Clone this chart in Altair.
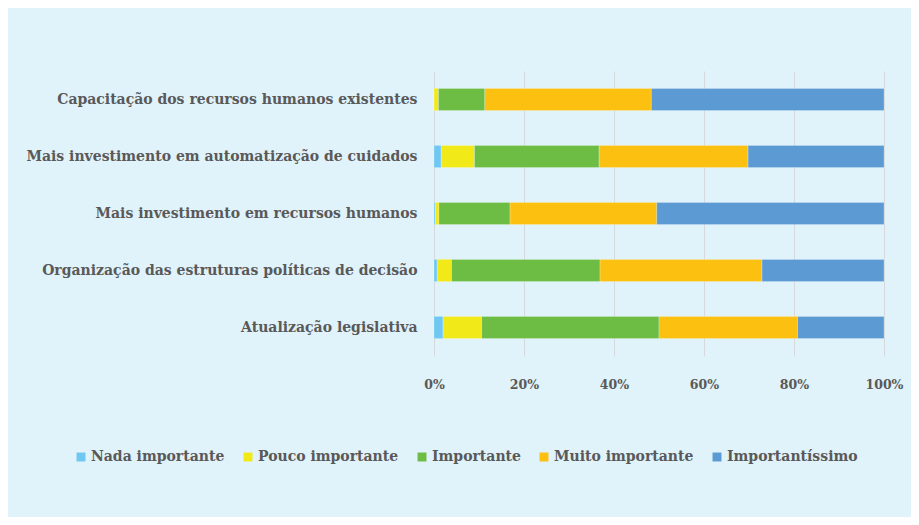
import altair as alt
import pandas as pd

categories = [
    "Capacitação dos recursos humanos existentes",
    "Mais investimento em automatização de cuidados",
    "Mais investimento em recursos humanos",
    "Organização das estruturas políticas de decisão",
    "Atualização legislativa",
]
levels = ["Nada importante", "Pouco importante", "Importante", "Muito importante", "Importantíssimo"]
colors = ["#6fc8f2", "#f2ea18", "#6dbd45", "#fcc110", "#5b9ad3"]

nada = [0.0, 1.6, 0.3, 0.7, 2.0]
pouco = [1.0, 7.4, 0.8, 3.2, 8.6]
importante = [10.3, 27.7, 15.8, 33.0, 39.4]
muito = [37.0, 33.1, 32.6, 36.0, 30.8]
importantissimo = [51.7, 30.2, 50.5, 27.1, 19.2]

series = [nada, pouco, importante, muito, importantissimo]
rows = []
for li, (lvl, vals) in enumerate(zip(levels, series)):
    for cat, v in zip(categories, vals):
        rows.append({"cat": cat, "level": lvl, "value": v, "ord": li})
df = pd.DataFrame(rows)

FONT = "DejaVu Serif"
TXT = "#595959"
BG = "#e0f2fa"

chart = alt.Chart(df).mark_bar(stroke="#ffffff", strokeWidth=0.4, strokeOpacity=0.6).encode(
    y=alt.Y("cat:N", sort=categories, title=None,
            scale=alt.Scale(paddingInner=0.61, paddingOuter=0.305),
            axis=alt.Axis(domain=False, ticks=False, labelFont=FONT, labelFontWeight="bold",
                          labelFontSize=14, labelColor=TXT, labelPadding=17, labelLimit=500)),
    x=alt.X("value:Q", stack="normalize", title=None,
            scale=alt.Scale(domain=[0, 1]),
            axis=alt.Axis(format=".0%", values=[0, 0.2, 0.4, 0.6, 0.8, 1.0], domain=False, ticks=False,
                          grid=True, gridColor="#d6d9db", gridWidth=1, labelFlush=False,
                          labelFont=FONT, labelFontWeight="bold", labelFontSize=12.5,
                          labelColor=TXT, labelPadding=22)),
    color=alt.Color("level:N", sort=levels,
                    scale=alt.Scale(domain=levels, range=colors),
                    legend=alt.Legend(title=None, orient="none", direction="horizontal",
                                      columns=5, legendX=-360, legendY=379,
                                      symbolType="square", symbolSize=80, symbolStrokeWidth=0,
                                      labelFont=FONT, labelFontSize=14, labelColor=TXT,
                                      labelFontWeight="bold", columnPadding=16,
                                      labelOffset=3)),
    order=alt.Order("ord:Q", sort="ascending"),
).properties(
    width=450,
    height=285,
    background=BG,
    padding={"left": 426, "top": 63, "right": 27, "bottom": 161},
    autosize=alt.AutoSizeParams(type="none"),
).configure_view(stroke=None)

chart.save("out.html", embed_options={"renderer": "svg", "actions": False})
